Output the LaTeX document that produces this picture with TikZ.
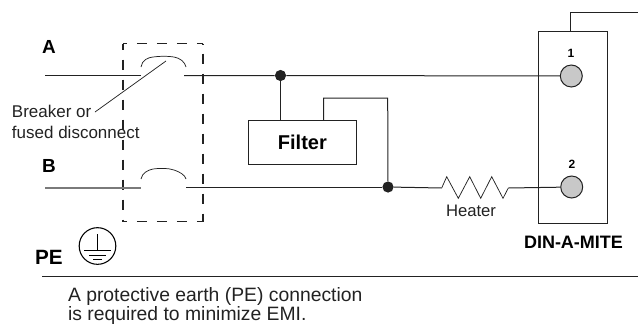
\documentclass[tikz,border=0pt]{standalone}
\usepackage{fontspec}
\setmainfont{Liberation Sans}
\definecolor{ink}{HTML}{222222}
\definecolor{pin}{HTML}{C8C8C8}
\tikzset{
  wire/.style={draw=ink,line width=0.75pt},
  thin wire/.style={draw=ink,line width=0.55pt},
  encl/.style={draw=ink,line width=0.8pt},
  lbl/.style={inner sep=0pt,outer sep=0pt,anchor=base west,text=ink,font=\fontsize{12.75pt}{15pt}\selectfont},
  big/.style={inner sep=0pt,outer sep=0pt,anchor=base west,text=black,font=\fontsize{14.2pt}{17pt}\selectfont\bfseries},
  note/.style={inner sep=0pt,outer sep=0pt,anchor=base west,text=ink,font=\fontsize{14.5pt}{17pt}\selectfont},
  dot/.style={circle,fill=ink,draw=none,minimum size=8.4pt,inner sep=0pt},
  pinc/.style={circle,fill=pin,draw=ink,line width=0.75pt,minimum size=16.5pt,inner sep=0pt},
  boxn/.style={draw=ink,line width=0.75pt,inner sep=0pt,anchor=north west}
}
\begin{document}
\begin{tikzpicture}[x=0.75pt,y=-0.75pt]
\useasboundingbox (0,0) rectangle (638,325);
% labels
\node[big] (la) at (42,53) {A};
\node[big] (lb) at (42,172) {B};
\node[big,font=\fontsize{15.5pt}{17pt}\selectfont\bfseries] (lpe) at (35,264) {PE};
\node[lbl] (l1) at (12,117) {Breaker or};
\node[lbl] (l2) at (12,138) {fused disconnect};
% dashed enclosure
\coordinate (tl) at (123,43.5);
\coordinate (tr) at (203,43.5);
\coordinate (bl) at (123,221.5);
\coordinate (br) at (203,221.5);
\draw[encl,dash pattern=on 7.9pt off 7.1pt,dash phase=4.65pt] (tl) -- (tr);
\draw[encl,dash pattern=on 7.9pt off 7.1pt,dash phase=4.65pt] (bl) -- (br);
\draw[encl,dash pattern=on 7.9pt off 7.1pt,dash phase=2.9pt] (tl) -- (bl);
\draw[encl,dash pattern=on 7.9pt off 7.1pt,dash phase=7.5pt] (tr) -- (br);
% DIN-A-MITE box
\node[boxn,minimum width=51.9pt,minimum height=143.8pt] (din) at (538,31) {};
\coordinate (dtop) at (570,31);
\coordinate (dt1) at (570,12);
\coordinate (dt2) at (638,12);
\draw[wire] (dtop) -- (dt1) -- (dt2);
\node[pinc] (p1) at (571.3,76) {};
\node[pinc] (p2) at (571.7,187) {};
\node[inner sep=0pt,font=\fontsize{9pt}{10pt}\selectfont\bfseries] (n1) at (571,53.5) {1};
\node[inner sep=0pt,font=\fontsize{9pt}{10pt}\selectfont\bfseries] (n2) at (572,164.5) {2};
\node[big,font=\fontsize{13.5pt}{16pt}\selectfont\bfseries] (dl) at (524,248.7) {DIN-A-MITE};
% Filter
\node[boxn,minimum width=80.8pt,minimum height=33pt,font=\fontsize{15pt}{16pt}\selectfont\bfseries] (filter) at (248,120) {Filter\hspace{3pt}};
% junctions
\node[dot] (j1) at (280.5,75.5) {};
\node[dot] (j2) at (388,187) {};
% line A
\coordinate (a0) at (45,75.5);
\coordinate (a1) at (141,75.5);
\coordinate (a2) at (184,75.5);
\draw[wire] (a0) -- (a1);
\draw[wire] (a2) -- (j1) -- (p1);
\draw[wire] (j1) -- (j1 |- filter.north);
% switch A
\coordinate (sa1) at (141,67);
\coordinate (sa2) at (186,67);
\draw[thin wire] (sa1) .. controls (142,60) and (148,57.5) .. (153,57) .. controls (160,56) and (168,56) .. (174,57) .. controls (180,58) and (185,62) .. (sa2);
% leader
\coordinate (ld1) at (95,112);
\coordinate (ld2) at (166,61);
\draw[thin wire] (ld1) -- (ld2);
% line B
\coordinate (b0) at (45,188);
\coordinate (b1) at (141,188);
\coordinate (b2) at (186,187);
\draw[wire,draw=ink!60,line width=1pt] (b0) -- (b1);
\draw[wire] (b2) -- (j2);
% switch B
\coordinate (sb1) at (141,179);
\coordinate (sb2) at (186,179);
\draw[thin wire] (sb1) .. controls (142,173) and (148,170) .. (153,169) .. controls (160,168) and (168,168) .. (174,170) .. controls (180,172) and (185,175) .. (sb2);
% filter loop
\coordinate (f1) at (323.5,120);
\coordinate (f2) at (323.5,98);
\coordinate (f3) at (387.7,98);
\draw[wire] (f1) -- (f2) -- (f3) -- (j2);
% heater
\coordinate (h0) at (441.7,188);
\coordinate (h1) at (508.3,188);
\draw[wire] (j2) -- (h0);
\draw[thin wire,line join=miter] (h0) -- (446.7,176.7) -- (458.3,198.3) -- (469.7,176.7) -- (480.7,198.3) -- (491.7,176.7) -- (503,198.3) -- (h1);
\draw[wire] (h1) -- (p2);
\node[lbl,font=\fontsize{12.5pt}{15pt}\selectfont] (hl) at (446,216) {Heater};
% earth symbol
\node[circle,draw=black,line width=0.8pt,minimum size=27.5pt,inner sep=0pt] (earth) at (97.5,246) {};
\coordinate (e0) at (97,234);
\coordinate (e1) at (97,250);
\draw[wire,draw=black] (e0) -- (e1);
\coordinate (e2) at (84,250); \coordinate (e3) at (111,250);
\coordinate (e4) at (89,255); \coordinate (e5) at (106,255);
\coordinate (e6) at (93,259.5); \coordinate (e7) at (102,259.5);
\draw[wire,draw=black] (e2) -- (e3);
\draw[wire,draw=black] (e4) -- (e5);
\draw[wire,draw=black] (e6) -- (e7);
% rule
\coordinate (r0) at (42,276.7);
\coordinate (r1) at (638,276.7);
\draw[wire] (r0) -- (r1);
% note
\node[note] (t1) at (68,301) {A protective earth (PE) connection};
\node[note] (t2) at (68,320.5) {is required to minimize EMI.};
\end{tikzpicture}
\end{document}
